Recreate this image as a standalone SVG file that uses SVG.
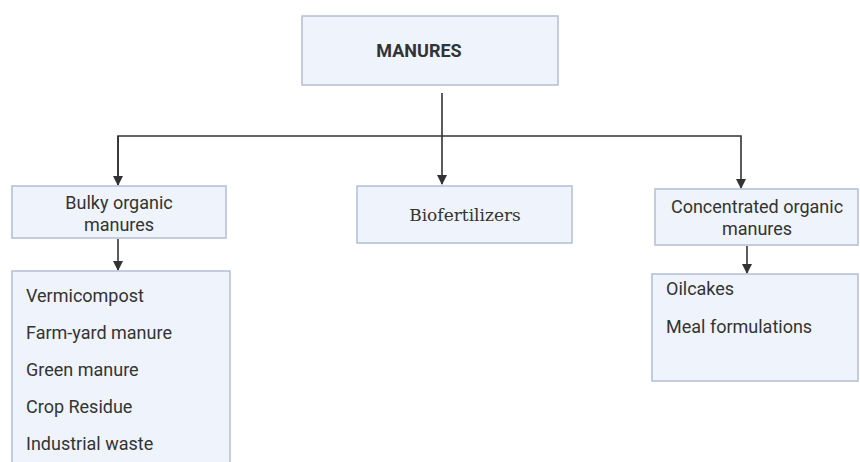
<svg xmlns="http://www.w3.org/2000/svg" width="860" height="462" viewBox="0 0 860 462">
<style>
.box{fill:#eef3fc;stroke:#b3bfd3;stroke-width:1.5}
.t{font-family:Roboto,"Liberation Sans",sans-serif;font-size:18px;fill:#333}
.c{text-anchor:middle}
.s{font-family:"DejaVu Serif","Liberation Serif",serif;font-size:17px;fill:#333;text-anchor:middle}
.ln{fill:none;stroke:#333;stroke-width:1.6}
</style>
<defs>
<marker id="ah" markerWidth="10" markerHeight="10" refX="9" refY="5" orient="auto" markerUnits="userSpaceOnUse">
<path d="M0,0 L10,5 L0,10 z" fill="#333"/>
</marker>
</defs>
<rect width="860" height="462" fill="#fff"/>
<g id="connectors">
<path class="ln" d="M442,93 V136"/>
<path class="ln" d="M118,185 V136 H741 V188" marker-end="url(#ah)"/>
<path class="ln" d="M118,136 V185" marker-end="url(#ah)"/>
<path class="ln" d="M442,136 V184" marker-end="url(#ah)"/>
<path class="ln" d="M118,239 V270" marker-end="url(#ah)"/>
<path class="ln" d="M747,246 V273" marker-end="url(#ah)"/>
</g>
<g id="manures">
<rect class="box" x="302" y="16" width="256" height="69"/>
<text class="t c" x="419" y="57" style="font-weight:bold">MANURES</text>
</g>
<g id="bulky">
<rect class="box" x="12" y="186" width="214" height="52"/>
<text class="t c" x="119" y="209">Bulky organic</text>
<text class="t c" x="119" y="231">manures</text>
</g>
<g id="bio">
<rect class="box" x="357" y="186" width="215" height="57"/>
<text class="s" x="465" y="221">Biofertilizers</text>
</g>
<g id="concentrated">
<rect class="box" x="655" y="189" width="203" height="56"/>
<text class="t c" x="757" y="213">Concentrated organic</text>
<text class="t c" x="757" y="235">manures</text>
</g>
<g id="bulky-list">
<rect class="box" x="12" y="271" width="218" height="200"/>
<text class="t" x="26" y="302">Vermicompost</text>
<text class="t" x="26" y="339">Farm-yard manure</text>
<text class="t" x="26" y="376">Green manure</text>
<text class="t" x="26" y="413">Crop Residue</text>
<text class="t" x="26" y="450">Industrial waste</text>
</g>
<g id="conc-list">
<rect class="box" x="652" y="274" width="206" height="107"/>
<text class="t" x="666" y="295">Oilcakes</text>
<text class="t" x="666" y="333">Meal formulations</text>
</g>
</svg>
